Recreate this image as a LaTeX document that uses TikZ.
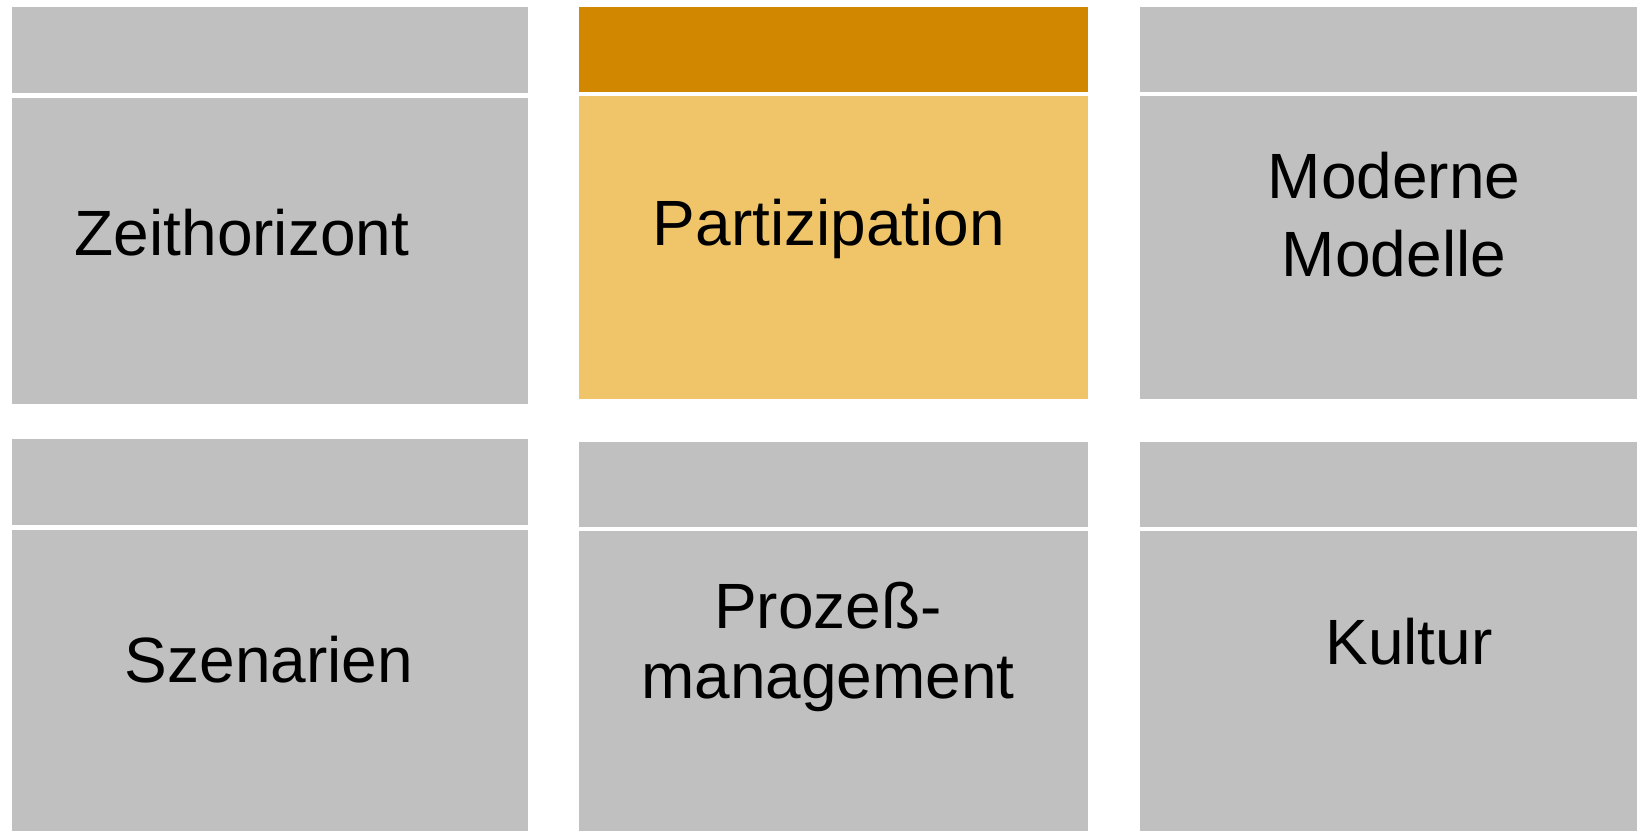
\documentclass[tikz,border=0pt]{standalone}
\usepackage{fontspec}
\setmainfont{Liberation Sans}
\definecolor{boxgrey}{RGB}{192,192,192}
\definecolor{headorange}{RGB}{209,136,0}
\definecolor{bodyorange}{RGB}{240,197,106}

\begin{document}
\begin{tikzpicture}[x=0.5pt,y=-0.5pt]
	\tikzset{tile/.style={fill=boxgrey, inner sep=0pt, outer sep=0pt, anchor=north west},
		tiletext/.style={font=\fontsize{32}{39}\selectfont, align=center, anchor=base, inner sep=0pt}}
	\useasboundingbox (0,0) rectangle (1637,831);
	% top row
	\node[tile, minimum width=258pt, minimum height=42.85pt] (zeitkopf) at (12,7) {};
	\node[tile, minimum width=258pt, minimum height=153pt] (zeit) at (12,98) {};
	\node[tile, fill=headorange, minimum width=254.5pt, minimum height=42.35pt] (partkopf) at (579,7) {};
	\node[tile, fill=bodyorange, minimum width=254.5pt, minimum height=151.5pt] (part) at (579,96) {};
	\node[tile, minimum width=248.5pt, minimum height=42.35pt] (modkopf) at (1140,7) {};
	\node[tile, minimum width=248.5pt, minimum height=151.5pt] (mod) at (1140,96) {};
	% bottom row
	\node[tile, minimum width=258pt, minimum height=43pt] (szenkopf) at (12,439) {};
	\node[tile, minimum width=258pt, minimum height=150.5pt] (szen) at (12,530) {};
	\node[tile, minimum width=254.5pt, minimum height=42.5pt] (prozkopf) at (579,442) {};
	\node[tile, minimum width=254.5pt, minimum height=150pt] (proz) at (579,531) {};
	\node[tile, minimum width=248.5pt, minimum height=42.5pt] (kultkopf) at (1140,442) {};
	\node[tile, minimum width=248.5pt, minimum height=150pt] (kult) at (1140,531) {};
	% texts (base = last line)
	\node[tiletext] (zeittext) at (242,255) {Zeithorizont};
	\node[tiletext] (parttext) at (829,245) {Partizipation};
	\node[tiletext] (modtext) at (1394,276) {Moderne\\Modelle};
	\node[tiletext] (szentext) at (269,682) {Szenarien};
	\node[tiletext, font=\fontsize{32}{35}\selectfont] (proztext) at (828,698) {Prozeß-\\management};
	\node[tiletext] (kulttext) at (1409,664) {Kultur};
\end{tikzpicture}
\end{document}
